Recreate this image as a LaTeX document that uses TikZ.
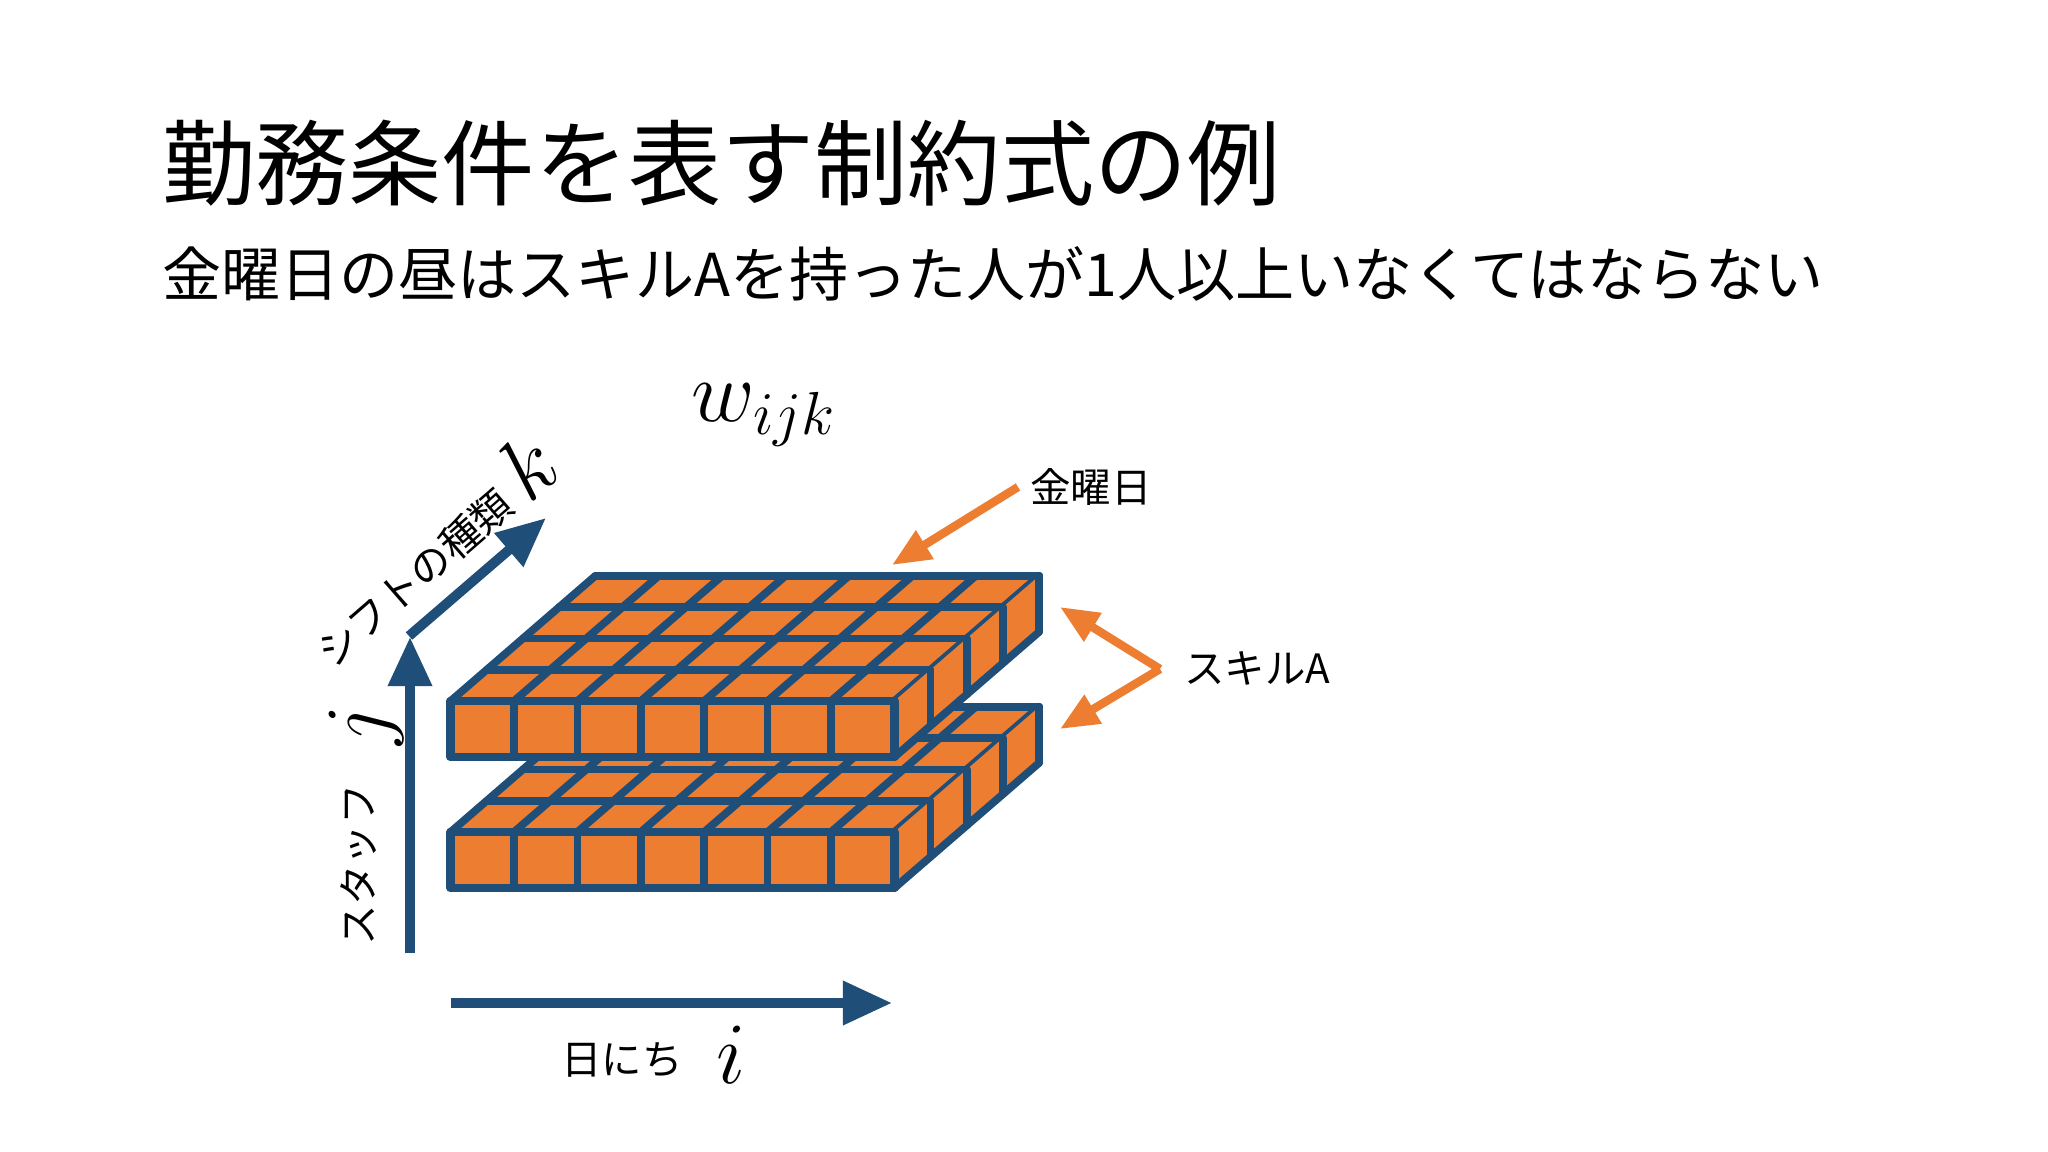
\documentclass[tikz,border=0pt]{standalone}
\usepackage{fontspec}
\setmainfont{Noto Sans CJK JP}
\usetikzlibrary{arrows.meta}
\begin{document}
\begin{tikzpicture}[x=0.01cm,y=-0.01cm,
  blk/.style={draw=axisblue,line width=2.4pt,line join=round},
  gl/.style={draw=axisblue,line width=2.2pt,line cap=round},
  ax/.style={draw=axisblue,line width=2.8pt,-{Triangle[length=14pt,width=12pt]}},
  oa/.style={draw=cubeor,line width=2.4pt,-{Triangle[length=11pt,width=9pt]}},
  lab/.style={font=\fontsize{11.5}{14}\selectfont},
  mth/.style={font=\fontsize{24}{28}\selectfont}]
\definecolor{axisblue}{HTML}{1F4E79}
\definecolor{cubeor}{HTML}{ED7D31}
\useasboundingbox[fill=white] (0,0) rectangle (2048,1152);
\node[anchor=west,font=\fontsize{26.5}{30}\selectfont] (title) at (150,163) {勤務条件を表す制約式の例};
\node[anchor=west,font=\fontsize{16.8}{20}\selectfont] (sub) at (150,274) {金曜日の昼はスキルAを持った人が1人以上いなくてはならない};
\node[mth] (w) at (764,415) {$w_{ijk}$};
\def\W{63.4}\def\H{56}\def\DX{36.2}\def\DY{31.3}
\foreach \by in {888,757}{
  \pgfmathsetmacro{\ty}{\by-\H}
  \pgfmathsetmacro{\xr}{450.6+7*\W}
  \fill[cubeor] (450.6,\ty) -- (\xr,\ty) -- (\xr+4*\DX,\ty-4*\DY) -- (450.6+4*\DX,\ty-4*\DY) -- cycle;
  \foreach \r in {0,...,4} \draw[gl] (450.6+\DX*\r,\ty-\DY*\r) -- (\xr+\DX*\r,\ty-\DY*\r);
  \foreach \c in {0,...,7} \draw[gl] (450.6+\W*\c,\ty) -- (450.6+\W*\c+4*\DX,\ty-4*\DY);
  \fill[cubeor] (\xr,\ty) -- (\xr+4*\DX,\ty-4*\DY) -- (\xr+4*\DX,\by-4*\DY) -- (\xr,\by) -- cycle;
  \foreach \r in {0,...,4} \draw[gl] (\xr+\DX*\r,\ty-\DY*\r) -- (\xr+\DX*\r,\by-\DY*\r);
  \draw[gl] (\xr+4*\DX,\by-4*\DY) -- (\xr,\by);
  \fill[cubeor] (450.6,\ty) rectangle (\xr,\by);
  \foreach \c in {0,...,7} \draw[gl] (450.6+\W*\c,\ty) -- (450.6+\W*\c,\by);
  \draw[blk] (450.6,\ty) rectangle (\xr,\by);
}
\coordinate (o1) at (410,953); \coordinate (o2) at (410,637);
\coordinate (h1) at (451,1003); \coordinate (h2) at (892,1003);
\coordinate (d1) at (409,636); \coordinate (d2) at (546,518);
\draw[ax] (o1) -- (o2);
\draw[ax] (h1) -- (h2);
\draw[ax] (d1) -- (d2);
\node[rotate=90,lab] (staff) at (359,865) {スタッフ};
\node[rotate=90,mth] (jj) at (366,725) {$j$};
\node[lab] (day) at (622,1060) {日にち};
\node[mth] (ii) at (731,1055) {$i$};
\node[rotate=41,lab] (shift) at (415,578) {シフトの種類};
\node[rotate=41,mth] (kk) at (527,466) {$k$};
\node[anchor=west,lab] (fri) at (1018,487) {金曜日};
\node[anchor=west,lab] (skl) at (1172,668) {スキルA};
\coordinate (f2) at (892,565);
\coordinate (s0) at (1160,669);
\coordinate (s1) at (1060,607); \coordinate (s2) at (1060,729);
\draw[oa] (fri.west) -- (f2);
\draw[oa] (s0) -- (s1);
\draw[oa] (s0) -- (s2);
\end{tikzpicture}
\end{document}
